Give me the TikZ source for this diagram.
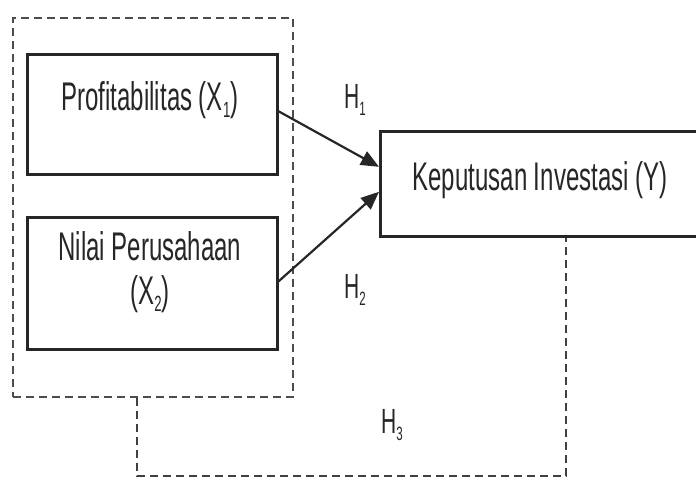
\documentclass[tikz,border=0pt]{standalone}
\usepackage{fontspec}
\setmainfont[FakeStretch=0.6]{Liberation Sans}
\usetikzlibrary{arrows.meta}
\newcommand{\smallsub}[1]{\raisebox{-0.18em}{\scalebox{0.55}{#1}}}
\begin{document}
\begin{tikzpicture}[x=1pt,y=-1pt,
  varbox/.style={draw=black!85, line width=2.6pt, rectangle, inner sep=0pt},
  lbl/.style={font=\fontsize{40}{44}\selectfont, text=black!85, inner sep=0pt},
  hlbl/.style={font=\fontsize{35}{40}\selectfont, text=black!85, inner sep=0pt},
  grpbox/.style={draw=black!70, line width=2pt, dash pattern=on 8pt off 5pt},
  link/.style={draw=black!75, line width=1.8pt, dash pattern=on 8pt off 5pt},
  arr/.style={draw=black!85, line width=2.2pt, -{Triangle[length=18pt,width=15pt]}}]
\useasboundingbox (0,0) rectangle (696,482);
\fill[white] (0,0) rectangle (696,482);
% group
\node[grpbox, minimum width=280pt, minimum height=379pt, anchor=north west] (grp) at (12,17) {};
% boxes
\node[varbox, minimum width=250pt, minimum height=120pt, anchor=north west] (x1) at (26,53) {};
\node[varbox, minimum width=250pt, minimum height=132pt, anchor=north west] (x2) at (26,216) {};
\node[varbox, minimum width=330pt, minimum height=105pt, anchor=north west] (y) at (379,130) {};
% texts
\node[lbl] (x1t) at (150,100) {Profitabilitas (X\smallsub{1})};
\node[lbl, align=center] (x2t) at (150,272) {Nilai Perusahaan\\(X\smallsub{2})};
\node[lbl] (yt) at (540,180) {Keputusan Investasi (Y)};
% arrows
\draw[arr] ([yshift=3pt]x1.east) -- ([yshift=17pt]y.west);
\draw[arr] ([yshift=2pt]x2.east) -- ([yshift=-8pt]y.west);
% hypothesis labels
\node[hlbl] (h1) at (355,100) {H\smallsub{1}};
\node[hlbl] (h2) at (355,290) {H\smallsub{2}};
\node[hlbl] (h3) at (392,425) {H\smallsub{3}};
% dashed link
\coordinate (c1) at (137,476);
\coordinate (c2) at (566,476);
\draw[link] (grp.south -| c1) -- (c1) -- (c2) -- (y.south -| c2);
\end{tikzpicture}
\end{document}
